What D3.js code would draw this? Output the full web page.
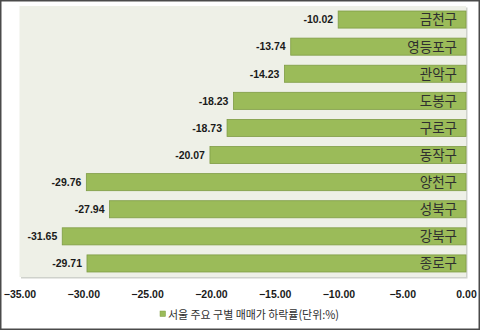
<!DOCTYPE html>
<html>
<head>
<meta charset="utf-8">
<script src="https://cdn.jsdelivr.net/npm/d3@7"></script>
<style>
  html, body { margin: 0; padding: 0; background: #fff; }
  svg { display: block; }
</style>
</head>
<body>
<svg id="chart" width="480" height="330"></svg>
<script>
// 서울 주요 구별 매매가 하락률 (단위: %)
const districts = ["금천구", "영등포구", "관악구", "도봉구", "구로구", "동작구", "양천구", "성북구", "강북구", "종로구"];
const declineRates = [-10.02, -13.74, -14.23, -18.23, -18.73, -20.07, -29.76, -27.94, -31.65, -29.71];
const tickValues = [-35, -30, -25, -20, -15, -10, -5, 0];
const legendLabel = "서울 주요 구별 매매가 하락률(단위:%)";

const W = 480, H = 330;
const plot = { left: 19.5, right: 466, top: 6, bottom: 277 };

const svg = d3.select("#chart");

// outer frame
svg.append("rect")
  .attr("x", 0.75).attr("y", 0.75)
  .attr("width", W - 1.5).attr("height", H - 1.5)
  .attr("fill", "#fff")
  .attr("stroke", "#4a4a4a").attr("stroke-width", 1.5);

const x = d3.scaleLinear().domain([-35, 0]).range([plot.left, plot.right]);
const y = d3.scaleBand().domain(districts).range([plot.top, plot.bottom]).paddingInner(0.37).paddingOuter(0.185);

// plot area with soft shadow on right and bottom
svg.append("rect")
  .attr("x", plot.left + 1.5).attr("y", plot.top + 1.5)
  .attr("width", plot.right - plot.left).attr("height", plot.bottom - plot.top)
  .attr("fill", "#cfd2cc");
svg.append("rect")
  .attr("x", plot.left).attr("y", plot.top)
  .attr("width", plot.right - plot.left).attr("height", plot.bottom - plot.top)
  .attr("fill", "#eef0e7");

const rows = districts.map((d, i) => ({ name: d, value: declineRates[i] }));

// bars
svg.append("g").selectAll("rect")
  .data(rows)
  .join("rect")
  .attr("x", d => x(d.value))
  .attr("y", d => y(d.name))
  .attr("width", d => x(0) - x(d.value))
  .attr("height", y.bandwidth())
  .attr("fill", "#9bbb59")
  .attr("stroke", "#7f9c45")
  .attr("stroke-width", 0.8);

// district names inside the bars
svg.append("g").selectAll("text")
  .data(rows)
  .join("text")
  .attr("x", x(0) - 9)
  .attr("y", d => y(d.name) + y.bandwidth() / 2)
  .attr("dy", "0.36em")
  .attr("text-anchor", "end")
  .attr("font-family", "'Noto Sans CJK KR', sans-serif")
  .attr("font-size", 13.5)
  .attr("fill", "#2f2f2f")
  .text(d => d.name);

// value labels left of the bars
svg.append("g").selectAll("text")
  .data(rows)
  .join("text")
  .attr("x", d => x(d.value) - 5)
  .attr("y", d => y(d.name) + y.bandwidth() / 2)
  .attr("dy", "0.36em")
  .attr("text-anchor", "end")
  .attr("font-family", "'Liberation Sans', Arial, sans-serif")
  .attr("font-weight", "bold")
  .attr("font-size", 10.5)
  .attr("fill", "#1a1a1a")
  .text(d => d.value.toFixed(2));

// x axis (labels only)
const axis = svg.append("g")
  .attr("transform", `translate(0,${plot.bottom})`)
  .call(d3.axisBottom(x).tickValues(tickValues).tickFormat(d3.format(".2f")).tickSize(0).tickPadding(14));
axis.select(".domain").remove();
axis.selectAll("text")
  .attr("font-family", "'Liberation Sans', Arial, sans-serif")
  .attr("font-weight", "bold")
  .attr("font-size", 10.5)
  .attr("fill", "#1a1a1a");

// legend
const legend = svg.append("g").attr("transform", "translate(160,311)");
legend.append("rect")
  .attr("width", 5.5).attr("height", 5.5)
  .attr("fill", "#9bbb59").attr("stroke", "#7f9c45").attr("stroke-width", 0.5);
legend.append("text")
  .attr("x", 8).attr("y", 3.5)
  .attr("dy", "0.36em")
  .attr("font-family", "'Noto Sans CJK KR', sans-serif")
  .attr("font-size", 11.5)
  .attr("fill", "#2f2f2f")
  .attr("textLength", 171)
  .attr("lengthAdjust", "spacingAndGlyphs")
  .text(legendLabel);
</script>
</body>
</html>
